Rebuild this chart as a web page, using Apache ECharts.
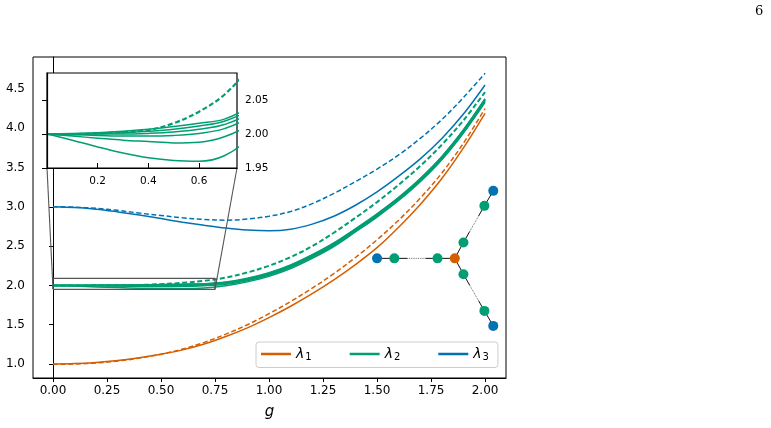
<!DOCTYPE html>
<html>
<head>
<meta charset="utf-8">
<script src="https://cdn.jsdelivr.net/npm/echarts@6/dist/echarts.min.js"></script>
<style>
	body{margin:0;background:#fff;}
	#main{width:771px;height:428px;}
</style>
</head>
<body>
<div id="main"></div>
<script>
// 横轴 g
var gVals = [0.0, 0.1, 0.2, 0.3, 0.4, 0.5, 0.6, 0.7, 0.8, 0.9, 1.0, 1.1, 1.2, 1.3, 1.4, 1.5, 1.6, 1.7, 1.8, 1.9, 2.0];
// lambda_1 (实线 / 虚线)
var lam1 = [1.000, 1.005, 1.020, 1.045, 1.080, 1.125, 1.180, 1.255, 1.350, 1.460, 1.590, 1.735, 1.895, 2.070, 2.265, 2.480, 2.740, 3.030, 3.360, 3.750, 4.190];
var lam1Dash = [0.995, 1.000, 1.013, 1.038, 1.075, 1.125, 1.190, 1.275, 1.380, 1.500, 1.640, 1.795, 1.965, 2.150, 2.355, 2.580, 2.830, 3.110, 3.430, 3.810, 4.250];
// lambda_2 一组实线
var lam2a = [2.000, 1.991, 1.981, 1.972, 1.965, 1.961, 1.960, 1.968, 1.995, 2.045, 2.115, 2.215, 2.345, 2.495, 2.680, 2.870, 3.080, 3.320, 3.600, 3.940, 4.330];
var lam2b = [2.000, 1.997, 1.994, 1.991, 1.989, 1.987, 1.988, 1.996, 2.015, 2.060, 2.130, 2.230, 2.360, 2.510, 2.690, 2.880, 3.090, 3.330, 3.610, 3.950, 4.345];
var lam2c = [2.000, 1.999, 1.998, 1.997, 1.997, 1.998, 2.001, 2.008, 2.026, 2.072, 2.142, 2.242, 2.372, 2.522, 2.702, 2.892, 3.102, 3.342, 3.622, 3.962, 4.355];
var lam2d = [2.000, 2.000, 2.000, 2.000, 2.001, 2.003, 2.007, 2.014, 2.032, 2.080, 2.150, 2.250, 2.380, 2.530, 2.710, 2.900, 3.110, 3.350, 3.630, 3.970, 4.362];
var lam2e = [2.000, 2.000, 2.001, 2.002, 2.004, 2.007, 2.012, 2.019, 2.037, 2.085, 2.155, 2.255, 2.385, 2.535, 2.715, 2.905, 3.115, 3.355, 3.635, 3.975, 4.368];
var lam2f = [2.000, 2.001, 2.002, 2.004, 2.007, 2.011, 2.016, 2.022, 2.042, 2.090, 2.160, 2.260, 2.390, 2.540, 2.720, 2.910, 3.120, 3.360, 3.640, 3.980, 4.375];
var lam2Dash = [2.000, 2.000, 2.001, 2.003, 2.006, 2.016, 2.033, 2.058, 2.100, 2.165, 2.250, 2.360, 2.500, 2.670, 2.860, 3.060, 3.280, 3.520, 3.790, 4.100, 4.460];
// lambda_3
var lam3 = [3.000, 2.990, 2.970, 2.935, 2.895, 2.850, 2.805, 2.765, 2.730, 2.705, 2.695, 2.715, 2.780, 2.880, 3.020, 3.190, 3.390, 3.610, 3.870, 4.180, 4.550];
var lam3Dash = [3.000, 2.996, 2.980, 2.955, 2.920, 2.890, 2.860, 2.840, 2.830, 2.845, 2.880, 2.940, 3.040, 3.170, 3.320, 3.480, 3.660, 3.870, 4.110, 4.390, 4.700];

// 刻度
var xTicks = [0, 0.25, 0.5, 0.75, 1.0, 1.25, 1.5, 1.75, 2.0];
var yTicks = [1.0, 1.5, 2.0, 2.5, 3.0, 3.5, 4.0, 4.5];
var insetXTicks = [0.2, 0.4, 0.6];
var insetYTicks = [1.95, 2.0, 2.05];
var insetX = [0, 0.75];
var insetY = [1.95, 2.09];

// 右侧小图: 节点位置 (g, λ)
var nodeX = [1.500, 1.580, 1.780, 1.860, 1.900, 1.997, 2.038, 1.900, 1.997, 2.038];
var nodeY = [2.344, 2.344, 2.344, 2.344, 2.547, 3.012, 3.203, 2.141, 1.676, 1.485];
var nodeKind = ['b', 'g', 'g', 'o', 'g', 'g', 'b', 'g', 'g', 'b'];
// 边: [起点, 终点, 是否为省略号(虚)]
var edges = [[0, 1, 0], [1, 2, 1], [2, 3, 0], [3, 4, 0], [4, 5, 1], [5, 6, 0], [3, 7, 0], [7, 8, 1], [8, 9, 0]];

var C1 = '#d55e00', C2 = '#029e73', C3 = '#0173b2';
var kindColor = {b: C3, g: C2, o: C1};
var FONT = 'DejaVu Sans';

function pairs(ys){
	return gVals.map(function(g, i){ return [g, ys[i]]; });
}
function lerp(a, b, t){
	return [a[0] + (b[0] - a[0]) * t, a[1] + (b[1] - a[1]) * t];
}

function curve(name, ys, color, dashed, width, grid){
	return {
		name: name,
		type: 'line',
		xAxisIndex: grid, yAxisIndex: grid,
		data: pairs(ys),
		smooth: 0.35,
		symbol: 'none',
		z: grid ? 11 : 2,
		lineStyle: {color: color, width: width, type: dashed ? [5, 2.6] : 'solid'},
		itemStyle: {color: color}
	};
}

var series = [];
var green = [lam2a, lam2b, lam2c, lam2d, lam2e, lam2f];
// 主图
series.push(curve('λ1', lam1, C1, false, 1.5, 0));
series.push(curve('l1d', lam1Dash, C1, true, 1.5, 0));
for(var i = 0; i < green.length; i++){
	series.push(curve('λ2', green[i], C2, false, 1.5, 0));
}
series.push(curve('l2d', lam2Dash, C2, true, 2, 0));
series.push(curve('λ3', lam3, C3, false, 1.5, 0));
series.push(curve('l3d', lam3Dash, C3, true, 1.5, 0));
// 放大图
for(var i = 0; i < green.length; i++){
	series.push(curve('λ2', green[i], C2, false, 1.5, 1));
}
series.push(curve('l2d', lam2Dash, C2, true, 2.2, 1));

// 放大区域的框
series.push({
	type: 'line', xAxisIndex: 0, yAxisIndex: 0, symbol: 'none', z: 3, silent: true,
	lineStyle: {color: '#555', width: 1.2},
	data: [[insetX[0], insetY[0]], [insetX[1], insetY[0]], [insetX[1], insetY[1]], [insetX[0], insetY[1]], [insetX[0], insetY[0]]]
});

// 图的边
for(var k = 0; k < edges.length; k++){
	var a = [nodeX[edges[k][0]], nodeY[edges[k][0]]];
	var b = [nodeX[edges[k][1]], nodeY[edges[k][1]]];
	var segs = edges[k][2] ? [[a, lerp(a, b, 0.3), 'solid'], [lerp(a, b, 0.3), lerp(a, b, 0.72), 'dotted'], [lerp(a, b, 0.72), b, 'solid']] : [[a, b, 'solid']];
	for(var s = 0; s < segs.length; s++){
		series.push({
			type: 'line', xAxisIndex: 0, yAxisIndex: 0, symbol: 'none', z: 5, silent: true,
			lineStyle: {color: segs[s][2] == 'solid' ? '#111' : '#555', width: segs[s][2] == 'solid' ? 1 : 0.9, type: segs[s][2]},
			data: [segs[s][0], segs[s][1]]
		});
	}
}
// 图的节点
series.push({
	type: 'scatter', xAxisIndex: 0, yAxisIndex: 0, symbolSize: 10, z: 6, silent: true,
	data: nodeX.map(function(x, i){
		return {value: [x, nodeY[i]], itemStyle: {color: kindColor[nodeKind[i]], opacity: 1}};
	})
});

var option = {
	animation: false,
	grid: [
		{left: 33, top: 57, width: 473, height: 321, show: true, borderColor: '#000', borderWidth: 1},
		{left: 47, top: 73, width: 190, height: 95, show: true, borderColor: '#000', borderWidth: 1.2, backgroundColor: '#fff', z: 10}
	],
	legend: {
		data: ['λ1', 'λ2', 'λ3'],
		left: 256, top: 342,
		icon: 'rect', itemWidth: 30, itemHeight: 2.5, itemGap: 38,
		padding: [5, 9, 5, 5],
		borderColor: '#ccc', borderWidth: 1, borderRadius: 3,
		backgroundColor: 'rgba(255,255,255,0.85)',
		formatter: function(name){ return '{l|λ}{s|' + name.charAt(1) + '}'; },
		textStyle: {
			rich: {
				l: {fontFamily: FONT, fontStyle: 'italic', fontSize: 14, color: '#000'},
				s: {fontFamily: FONT, fontSize: 10, color: '#000', padding: [7, 0, 0, 1]}
			}
		}
	},
	xAxis: [{
		type: 'value', gridIndex: 0, min: -0.0926, max: 2.097,
		name: 'g', nameLocation: 'middle', nameGap: 27,
		nameTextStyle: {fontFamily: FONT, fontStyle: 'italic', fontSize: 15, color: '#000'},
		axisLine: {lineStyle: {color: '#000', width: 1}},
		axisTick: {length: 4, customValues: xTicks, lineStyle: {color: '#000'}},
		axisLabel: {customValues: xTicks, margin: 7, fontSize: 12, color: '#000', fontFamily: FONT,
			formatter: function(v){ return v.toFixed(2); }},
		splitLine: {show: false}
	}, {
		type: 'value', gridIndex: 1, min: insetX[0], max: insetX[1], z: 12,
		axisLine: {lineStyle: {color: '#000', width: 1.2}},
		axisTick: {inside: true, length: 5, customValues: insetXTicks, lineStyle: {color: '#000'}},
		axisLabel: {customValues: insetXTicks, margin: 8, fontSize: 10.5, color: '#000', fontFamily: FONT,
			formatter: function(v){ return v.toFixed(1); }},
		splitLine: {show: false}
	}],
	yAxis: [{
		type: 'value', gridIndex: 0, min: 0.822, max: 4.906,
		axisLine: {lineStyle: {color: '#000', width: 1}},
		axisTick: {length: 4, customValues: yTicks, lineStyle: {color: '#000'}},
		axisLabel: {customValues: yTicks, margin: 8, fontSize: 12, color: '#000', fontFamily: FONT,
			formatter: function(v){ return v.toFixed(1); }},
		splitLine: {show: false}
	}, {
		type: 'value', gridIndex: 1, min: insetY[0], max: insetY[1], position: 'right', z: 12,
		axisLine: {lineStyle: {color: '#000', width: 1.2}},
		axisTick: {inside: true, length: 5, customValues: insetYTicks, lineStyle: {color: '#000'}},
		axisLabel: {customValues: insetYTicks, margin: 8, fontSize: 10.5, color: '#000', fontFamily: FONT,
			formatter: function(v){ return v.toFixed(2); }},
		splitLine: {show: false}
	}],
	series: series
};

var myChart = echarts.init(document.getElementById('main'));
myChart.setOption(option);

// 放大图与框之间的连线 (下角对下角)
var lines = [];
for(var c = 0; c < 2; c++){
	var p1 = myChart.convertToPixel({xAxisIndex: 1, yAxisIndex: 1}, [insetX[c], insetY[0]]);
	var p2 = myChart.convertToPixel({xAxisIndex: 0, yAxisIndex: 0}, [insetX[c], insetY[0]]);
	lines.push({
		type: 'line', z: 9, silent: true,
		shape: {x1: p1[0], y1: p1[1], x2: p2[0], y2: p2[1]},
		style: {stroke: '#555', lineWidth: 1.1}
	});
}
// 页码
lines.push({
	type: 'text', left: 755, top: 5, silent: true,
	style: {text: '6', fontFamily: 'DejaVu Serif', fontSize: 13, fill: '#000'}
});
myChart.setOption({graphic: lines});
</script>
</body>
</html>
